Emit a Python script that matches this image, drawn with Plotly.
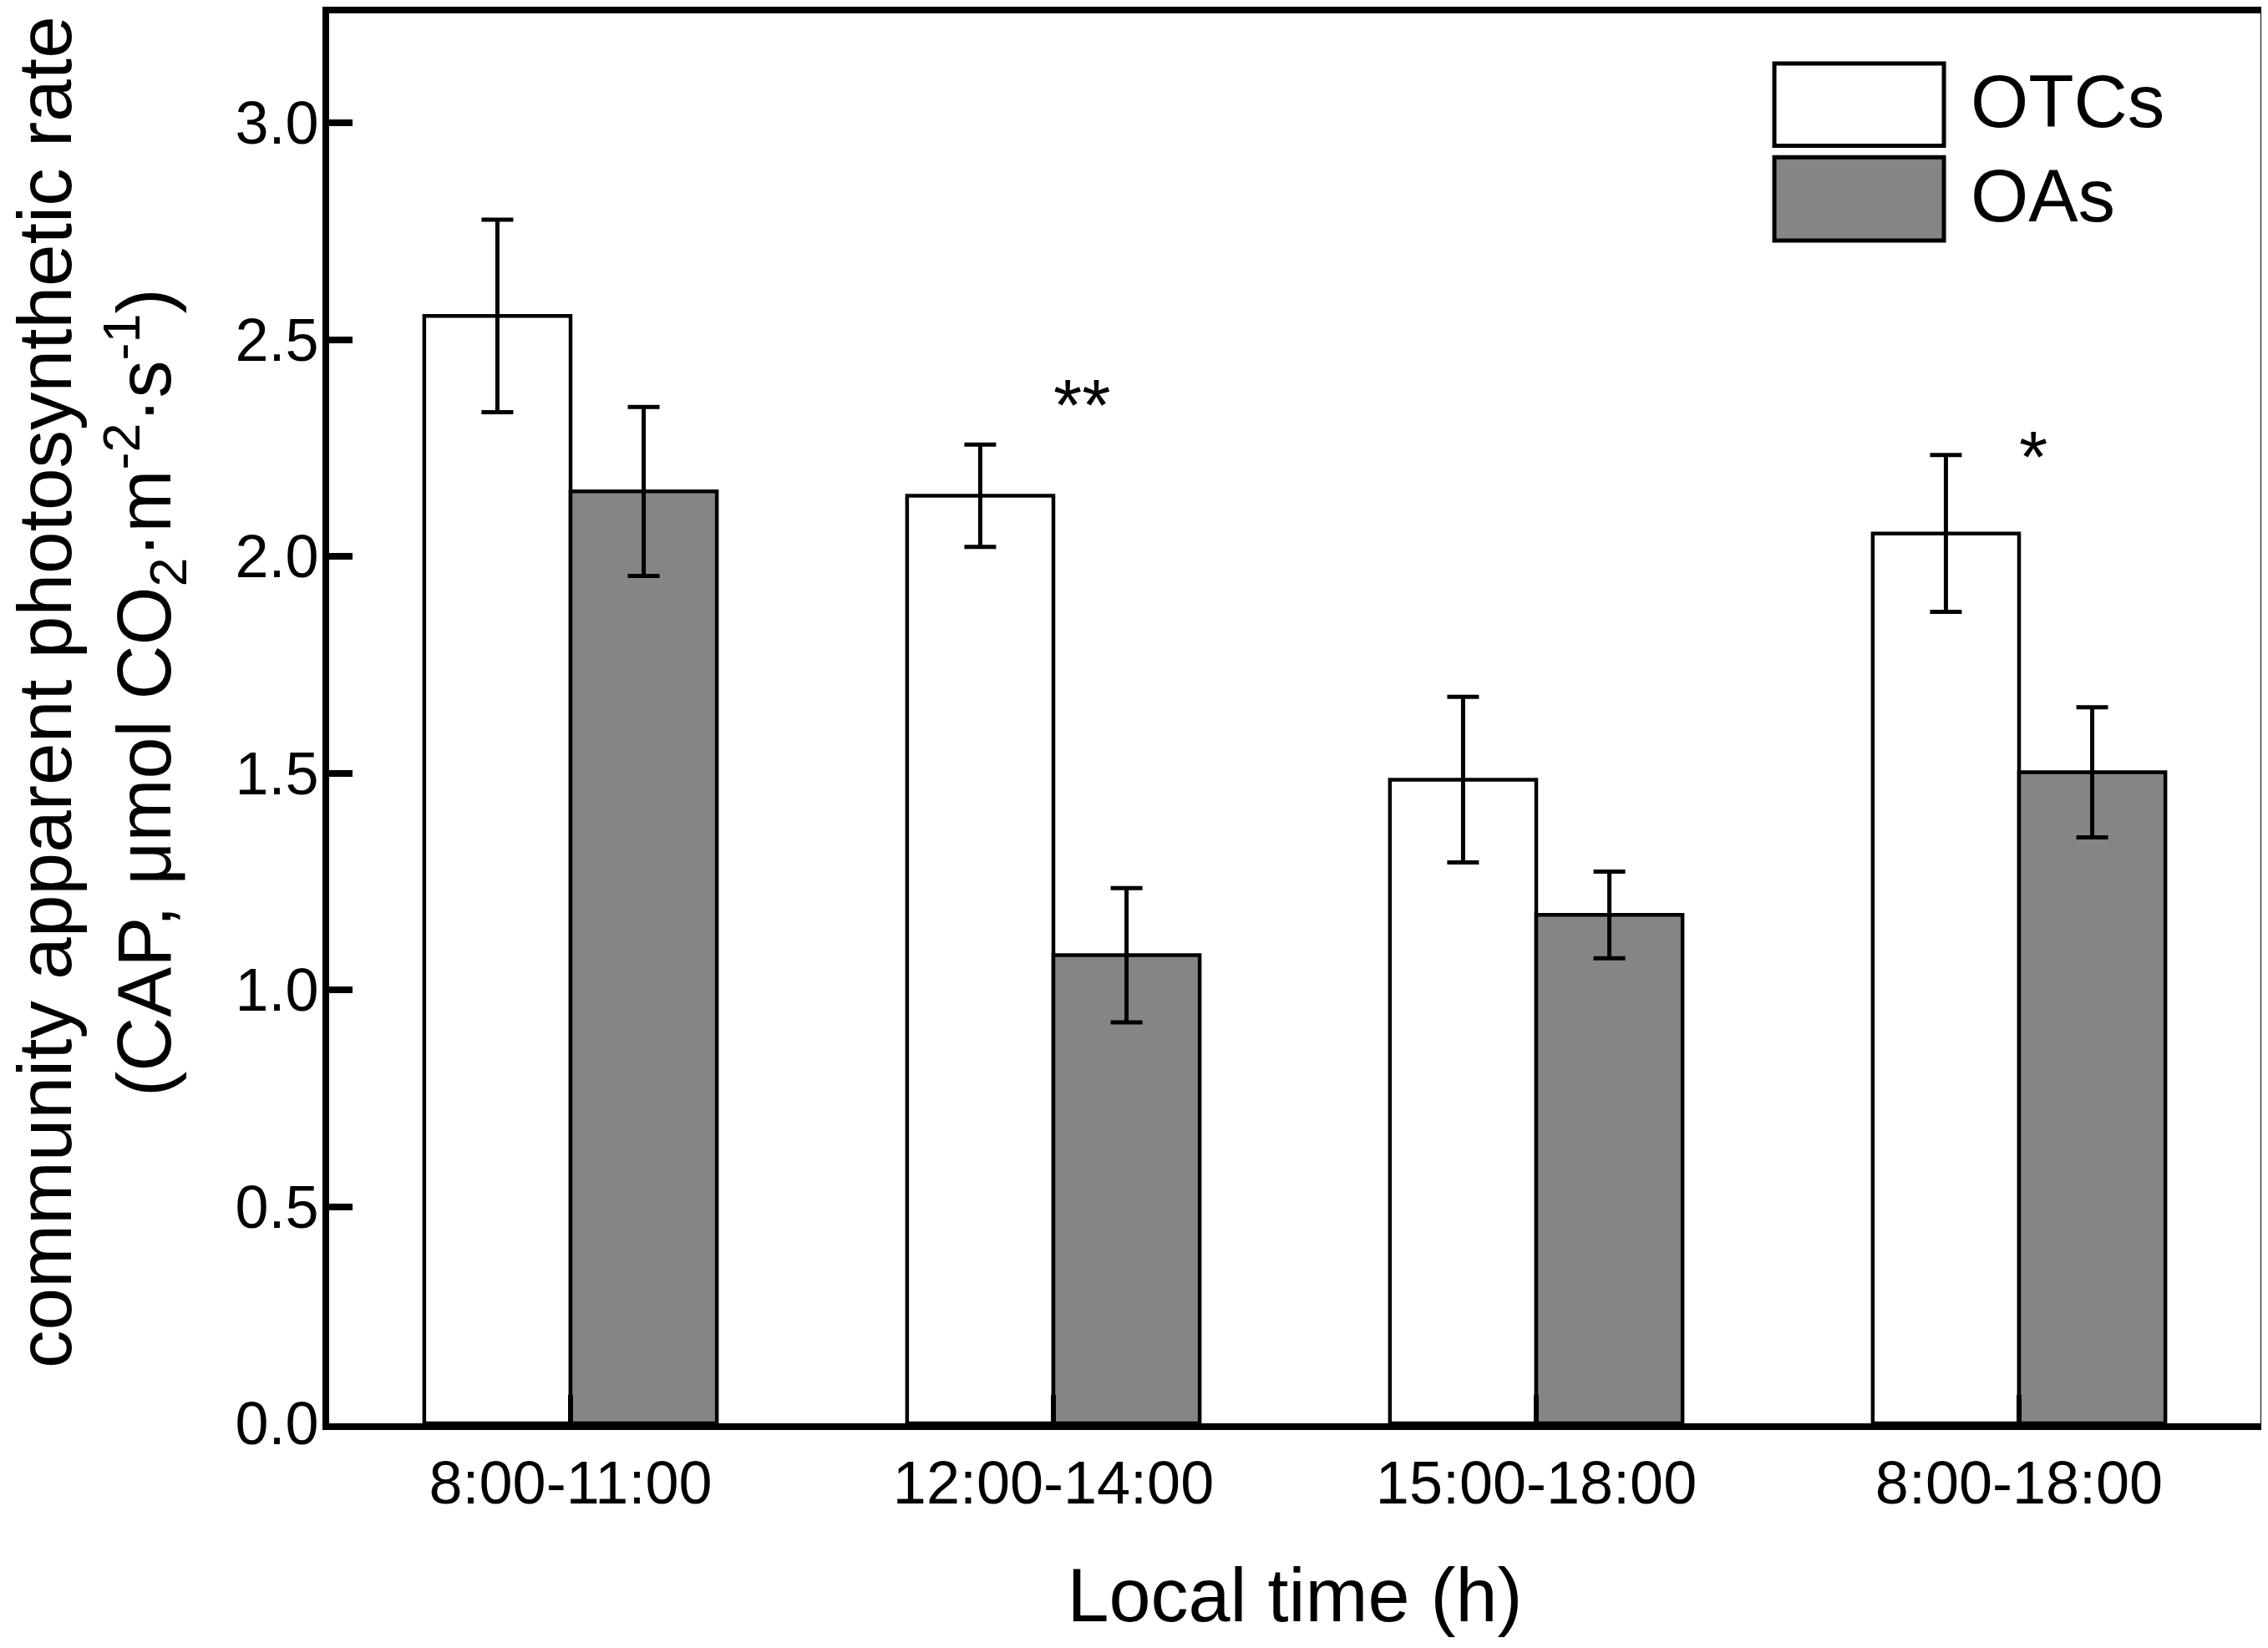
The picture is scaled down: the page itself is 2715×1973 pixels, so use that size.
import plotly.graph_objects as go

# values
periods = ["8:00-11:00", "12:00-14:00", "15:00-18:00", "8:00-18:00"]
otc_mean = [2.555, 2.14, 1.485, 2.053]
otc_err = [0.222, 0.118, 0.191, 0.181]
oa_mean = [2.150, 1.080, 1.173, 1.502]
oa_err = [0.195, 0.155, 0.100, 0.150]

# significance marks (category, height)
sig_text = ["**", "*"]
sig_cat = ["12:00-14:00", "8:00-18:00"]
sig_y = [2.35, 2.23]

font = "Liberation Sans, Arial, sans-serif"
gray = "#858585"

fig = go.Figure()
fig.add_trace(go.Bar(
    x=periods, y=otc_mean, name="OTCs",
    marker=dict(color="white", line=dict(color="black", width=4.5)),
    error_y=dict(type="data", array=otc_err, color="black", thickness=5, width=19),
))
fig.add_trace(go.Bar(
    x=periods, y=oa_mean, name="OAs",
    marker=dict(color=gray, line=dict(color="black", width=4.5)),
    error_y=dict(type="data", array=oa_err, color="black", thickness=5, width=19),
))

for t, c, y in zip(sig_text, sig_cat, sig_y):
    fig.add_annotation(x=c, y=y, text=t, showarrow=False, xanchor="left",
                       yanchor="middle", xshift=-2,
                       font=dict(family=font, size=88, color="black"))

# hand-drawn legend with large swatches
legend_items = [("OTCs", "white", 0.9061, 0.9645), ("OAs", gray, 0.8389, 0.8979)]
for name, col, y0, y1 in legend_items:
    fig.add_shape(type="rect", xref="paper", yref="paper",
                  x0=0.7483, x1=0.8361, y0=y0, y1=y1,
                  fillcolor=col, line=dict(color="black", width=5))
    fig.add_annotation(xref="paper", yref="paper", x=0.849, y=(y0 + y1) / 2,
                       text=name, showarrow=False, xanchor="left", yanchor="middle",
                       yshift=4, font=dict(family=font, size=89, color="black"))

# y title, one rotated annotation per line
ytitle = ["community apparent photosynthetic rate",
          "(CAP, μmol CO<sub>2</sub>·m<sup>-2</sup>·s<sup>-1</sup>)"]
ytitle_x = [-0.1470, -0.0955]
ytitle_y = [0.5185, 0.518]
ytitle_size = [91, 90]
for t, x, y, s in zip(ytitle, ytitle_x, ytitle_y, ytitle_size):
    fig.add_annotation(xref="paper", yref="paper", x=x, y=y, textangle=-90,
                       text=t, showarrow=False, xanchor="center", yanchor="middle",
                       font=dict(family=font, size=s, color="black"))

fig.update_layout(
    width=2715, height=1973,
    margin=dict(l=386, r=17, t=0, b=277),
    paper_bgcolor="white", plot_bgcolor="white",
    barmode="group", bargap=0.394, bargroupgap=0,
    showlegend=False,
    font=dict(family=font, color="black"),
    xaxis=dict(
        range=[-0.5, 3.5], showline=True, linecolor="black", linewidth=8, mirror=True,
        ticks="inside", ticklen=34, tickwidth=6, tickcolor="black",
        tickfont=dict(size=72), ticklabelstandoff=2,
        showgrid=False, zeroline=False,
        title=dict(text="Local time (h)", font=dict(size=90), standoff=67),
    ),
    yaxis=dict(
        range=[0, 3.253], showline=True, linecolor="black", linewidth=8, mirror=True,
        ticks="inside", ticklen=28, tickwidth=8, tickcolor="black",
        tickvals=[0, 0.5, 1.0, 1.5, 2.0, 2.5, 3.0], tickformat=".1f",
        tickfont=dict(size=72), ticklabelstandoff=-10,
        showgrid=False, zeroline=False,
    ),
)

fig.write_html("out.html")
